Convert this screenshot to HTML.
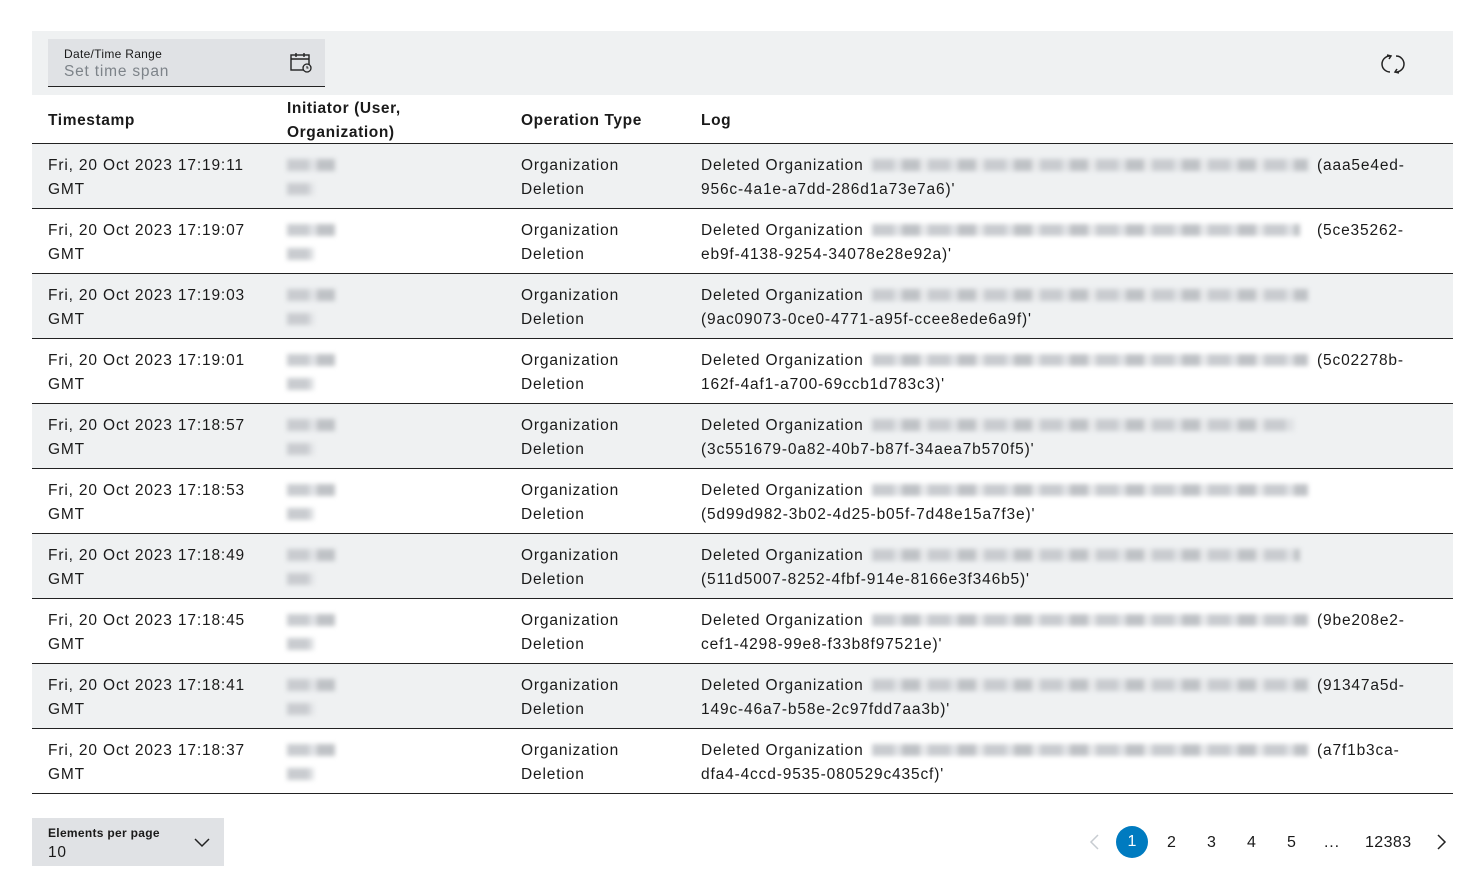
<!DOCTYPE html>
<html><head><meta charset="utf-8"><style>
body{margin:0;width:1482px;height:896px;background:#fff;font-family:"Liberation Sans",sans-serif;color:#1a1a1a;position:relative;overflow:hidden}
.a{position:absolute}
.t{font-size:15.5px;line-height:24px;white-space:nowrap;letter-spacing:0.85px}
.h{font-size:15.5px;font-weight:bold;line-height:24px;letter-spacing:0.6px}
.bl{position:absolute;height:12px;filter:blur(2.5px);background:repeating-linear-gradient(90deg,#c9ccd0 0 22px,#dfe1e4 22px 30px,#bfc2c6 30px 48px,#e6e7e9 48px 56px)}
</style></head><body>
<div class="a" style="left:32px;top:31px;width:1421px;height:64px;background:#eff1f2"></div>
<div class="a" style="left:48px;top:39px;width:277px;height:47px;background:#e0e2e5;border-bottom:1px solid #222"></div>
<div class="a" style="left:64px;top:47px;font-size:12px;letter-spacing:0.3px">Date/Time Range</div>
<div class="a" style="left:64px;top:63px;font-size:15.5px;color:#7d8389;letter-spacing:0.8px">Set time span</div>
<svg class="a" style="left:289px;top:52px" width="24" height="22" viewBox="0 0 24 22"><rect x="2" y="3" width="18" height="15" fill="none" stroke="#222" stroke-width="1.4"/><line x1="2" y1="7" x2="20" y2="7" stroke="#222" stroke-width="1.4"/><line x1="7" y1="1" x2="7" y2="5" stroke="#222" stroke-width="1.4"/><line x1="15" y1="1" x2="15" y2="5" stroke="#222" stroke-width="1.4"/><circle cx="18" cy="16" r="4" fill="#e0e2e5" stroke="#222" stroke-width="1.3"/><path d="M18 14v2h1.5" stroke="#222" fill="none"/></svg>
<svg class="a" style="left:1381px;top:52px" width="24" height="24" viewBox="0 0 24 24"><path d="M9 4A8 8 0 0 0 9 20" fill="none" stroke="#222" stroke-width="1.5"/><path d="M15 20A8 8 0 0 0 15 4" fill="none" stroke="#222" stroke-width="1.5"/><path d="M6 3l4 1-2 3" fill="none" stroke="#222" stroke-width="1.5"/><path d="M18 21l-4-1 2-3" fill="none" stroke="#222" stroke-width="1.5"/></svg>
<div class="a h" style="left:48px;top:109px">Timestamp</div>
<div class="a h" style="left:287px;top:97px">Initiator (User,<br>Organization)</div>
<div class="a h" style="left:521px;top:109px">Operation Type</div>
<div class="a h" style="left:701px;top:109px">Log</div>
<div class="a" style="left:32px;top:143px;width:1421px;height:1px;background:#222"></div>
<div id="rows"></div>
<div class="a" style="left:32px;top:818px;width:192px;height:48px;background:#e0e2e5"></div>
<div class="a" style="left:48px;top:826px;font-size:12px;font-weight:bold;letter-spacing:0.3px">Elements per page</div>
<div class="a" style="left:48px;top:844px;font-size:15.5px;letter-spacing:0.8px">10</div>
<svg class="a" style="left:193px;top:836px" width="18" height="12"><path d="M2 3l7 7 7-7" fill="none" stroke="#222" stroke-width="1.5"/></svg>
<svg class="a" style="left:1088px;top:833px" width="14" height="18"><path d="M10 2l-7 7 7 7" fill="none" stroke="#c7ccd1" stroke-width="1.5"/></svg>
<div class="a" style="left:1116px;top:826px;width:32px;height:32px;border-radius:50%;background:#007bc0;color:#fff;font-size:16px;line-height:32px;text-align:center">1</div>
<div class="a t" style="left:1167px;top:831px;font-size:16px">2</div>
<div class="a t" style="left:1207px;top:831px;font-size:16px">3</div>
<div class="a t" style="left:1247px;top:831px;font-size:16px">4</div>
<div class="a t" style="left:1287px;top:831px;font-size:16px">5</div>
<div class="a t" style="left:1324px;top:831px;font-size:16px">...</div>
<div class="a t" style="left:1365px;top:831px;font-size:16px;letter-spacing:0.4px">12383</div>
<svg class="a" style="left:1434px;top:833px" width="14" height="18"><path d="M4 2l7 7-7 7" fill="none" stroke="#222" stroke-width="1.5"/></svg>
<script>
var d=[["17:19:11","(aaa5e4ed-","956c-4a1e-a7dd-286d1a73e7a6)'",1308],["17:19:07","(5ce35262-","eb9f-4138-9254-34078e28e92a)'",1300],["17:19:03","","(9ac09073-0ce0-4771-a95f-ccee8ede6a9f)'",1308],["17:19:01","(5c02278b-","162f-4af1-a700-69ccb1d783c3)'",1308],["17:18:57","","(3c551679-0a82-40b7-b87f-34aea7b570f5)'",1294],["17:18:53","","(5d99d982-3b02-4d25-b05f-7d48e15a7f3e)'",1308],["17:18:49","","(511d5007-8252-4fbf-914e-8166e3f346b5)'",1300],["17:18:45","(9be208e2-","cef1-4298-99e8-f33b8f97521e)'",1308],["17:18:41","(91347a5d-","149c-46a7-b58e-2c97fdd7aa3b)'",1308],["17:18:37","(a7f1b3ca-","dfa4-4ccd-9535-080529c435cf)'",1308]];
var h="";d.forEach(function(r,i){var y=144+65*i;
h+='<div class="a" style="left:32px;top:'+y+'px;width:1421px;height:64px;background:'+(i%2?'#fff':'#eff1f2')+'"></div>';
h+='<div class="a" style="left:32px;top:'+(y+64)+'px;width:1421px;height:1px;background:#222"></div>';
h+='<div class="a t" style="left:48px;top:'+(y+10)+'px">Fri, 20 Oct 2023 '+r[0]+'<br>GMT</div>';
h+='<div class="a t" style="left:521px;top:'+(y+10)+'px">Organization<br>Deletion</div>';
h+='<div class="a t" style="left:701px;top:'+(y+10)+'px">Deleted Organization<br>'+r[2]+'</div>';
if(r[1])h+='<div class="a t" style="left:1317px;top:'+(y+10)+'px">'+r[1]+'</div>';
h+='<div class="bl" style="left:872px;top:'+(y+15)+'px;width:'+(r[3]-872)+'px"></div>';
h+='<div class="bl" style="left:287px;top:'+(y+15)+'px;width:48px"></div>';
h+='<div class="bl" style="left:287px;top:'+(y+39)+'px;width:27px"></div>';
});document.getElementById("rows").innerHTML=h;
</script>
</body></html>
